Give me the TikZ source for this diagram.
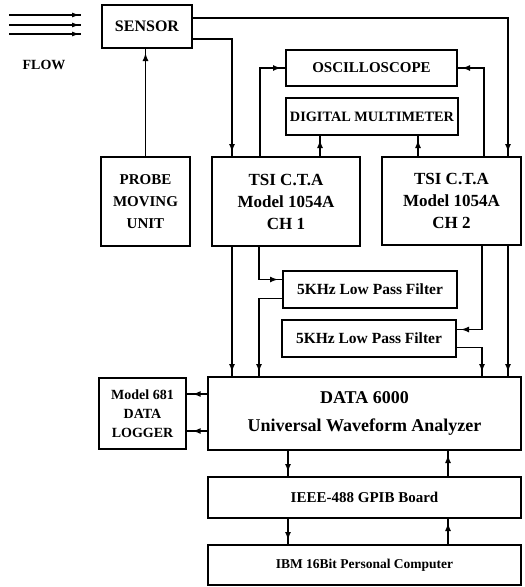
\documentclass[tikz,border=0pt]{standalone}
\usepackage{fontspec}
\setmainfont{Liberation Serif}
\usetikzlibrary{arrows.meta,decorations.markings}
\newcommand\myfs[2]{\fontsize{#1}{#2}\selectfont}
\begin{document}
\begin{tikzpicture}[x=1pt,y=1pt,
  box/.style={draw, line width=1.5pt, inner sep=0pt, outer sep=0pt, align=center},
  conn/.style={line width=1.4pt},
  headend/.style={conn, decoration={markings, mark=at position -5pt with {\arrow{Latex[length=8pt,width=6pt]}}}, postaction={decorate}},
  headmid/.style={conn, decoration={markings, mark=at position 0.7 with {\arrow{Latex[length=8pt,width=6pt]}}}, postaction={decorate}},
  flowarrow/.style={line width=1.3pt, decoration={markings, mark=at position -1pt with {\arrow{Latex[length=8pt,width=5pt]}}}, postaction={decorate}}
]
\useasboundingbox (0,0) rectangle (525,-587);

% boxes
\node[box, minimum width=90pt, minimum height=43pt, font=\bfseries\myfs{16}{18}] (sensor) at (147,-26.5) {SENSOR};
\node[box, minimum width=171pt, minimum height=36pt, font=\bfseries\myfs{15}{17}] (osc) at (371.5,-68) {OSCILLOSCOPE};
\node[box, minimum width=172pt, minimum height=37pt, font=\bfseries\myfs{14.3}{17}] (dmm) at (372,-116.5) {DIGITAL MULTIMETER};
\node[box, minimum width=89pt, minimum height=89pt, font=\bfseries\myfs{15}{22}] (probe) at (145.5,-201.5) {PROBE\\MOVING\\UNIT};
\node[box, minimum width=148pt, minimum height=89pt, font=\bfseries\myfs{17}{22}] (ch1) at (286,-201.5) {TSI C.T.A\\Model 1054A\\CH 1};
\node[box, minimum width=139pt, minimum height=88pt, font=\bfseries\myfs{17}{22}] (ch2) at (451.5,-201) {TSI C.T.A\\Model 1054A\\CH 2};
\node[box, minimum width=174pt, minimum height=37pt, font=\bfseries\myfs{15.5}{18}] (f1) at (370,-289.5) {5KHz Low Pass Filter};
\node[box, minimum width=174pt, minimum height=37pt, font=\bfseries\myfs{15.5}{18}] (f2) at (369,-338.5) {5KHz Low Pass Filter};
\node[box, minimum width=313pt, minimum height=73pt, font=\bfseries\myfs{18}{28}] (data) at (364.5,-413.5) {DATA 6000\\Universal Waveform Analyzer};
\node[box, minimum width=87pt, minimum height=71pt, font=\bfseries\myfs{14}{19}] (logger) at (142.5,-413.5) {Model 681\\DATA\\LOGGER};
\node[box, minimum width=313pt, minimum height=41pt, font=\bfseries\myfs{15}{17}] (gpib) at (364.5,-497.5) {IEEE-488 GPIB Board};
\node[box, minimum width=313pt, minimum height=40pt, font=\bfseries\myfs{13.5}{15}] (ibm) at (364.5,-565) {IBM 16Bit Personal Computer};

% flow
\node[font=\bfseries\myfs{14}{16}] (flow) at (44,-65) {FLOW};
\coordinate (fa1) at (9,-15);  \coordinate (fb1) at (81,-15);
\coordinate (fa2) at (9,-25);  \coordinate (fb2) at (81,-25);
\coordinate (fa3) at (9,-34);  \coordinate (fb3) at (81,-34);
\draw[flowarrow] (fa1) -- (fb1);
\draw[flowarrow] (fa2) -- (fb2);
\draw[flowarrow] (fa3) -- (fb3);

% track coordinates
\coordinate (yS1) at (0,-18);
\coordinate (yS2) at (0,-39);
\coordinate (xA) at (232,0);
\coordinate (xB) at (260,0);
\coordinate (xC) at (484,0);
\coordinate (xD) at (320,0);
\coordinate (xE) at (418,0);
\coordinate (xF) at (259,0);
\coordinate (xG) at (482,0);
\coordinate (xR) at (508,0);
\coordinate (xH) at (288,0);
\coordinate (xI) at (448,0);

% connectors
\draw[headend] (sensor.east |- yS1) -| (ch2.north -| xR);
\draw[headend] (sensor.east |- yS2) -| (ch1.north -| xA);
\draw[headend] (probe.north) -- (probe.north |- sensor.south);
\draw[headend] (ch1.north -| xB) |- (osc.west);
\draw[headend] (ch2.north -| xC) |- (osc.east);
\draw[headend] (ch1.north -| xD) -- (dmm.south -| xD);
\draw[headend] (ch2.north -| xE) -- (dmm.south -| xE);
\draw[headend] (ch1.south -| xA) -- (data.north -| xA);
\draw[headend] (ch1.south -| xF) |- ([yshift=10pt]f1.west);
\draw[headend] ([yshift=-9pt]f1.west) -| (data.north -| xF);
\draw[headend] (ch2.south -| xG) |- ([yshift=9pt]f2.east);
\draw[headend] ([yshift=-9pt]f2.east) -| (data.north -| xG);
\draw[headend] (ch2.south -| xR) -- (data.north -| xR);
\draw[headmid] ([yshift=19.5pt]data.west) -- ([yshift=19.5pt]logger.east);
\draw[headmid] ([yshift=-17.5pt]data.west) -- ([yshift=-17.5pt]logger.east);
\draw[headend] (data.south -| xH) -- (gpib.north -| xH);
\draw[headend] (gpib.north -| xI) -- (data.south -| xI);
\draw[headend] (gpib.south -| xH) -- (ibm.north -| xH);
\draw[headend] (ibm.north -| xI) -- (gpib.south -| xI);
\end{tikzpicture}
\end{document}
